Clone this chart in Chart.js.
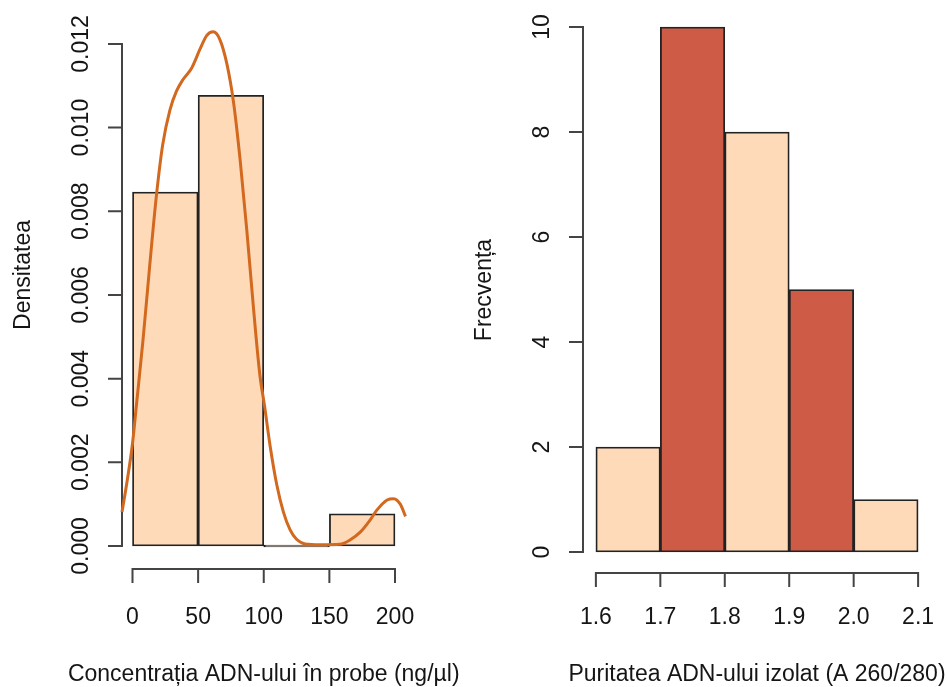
<!DOCTYPE html>
<html>
<head>
<meta charset="utf-8">
<script src="https://cdn.jsdelivr.net/npm/chart.js@4.4.1/dist/chart.umd.min.js"></script>
<style>
  html, body { margin: 0; padding: 0; background: #fff; }
  #wrap { position: relative; width: 947px; height: 687px; }
  .panel { position: absolute; top: 0; }
</style>
</head>
<body>
<div id="wrap">
  <canvas id="leftChart" class="panel" width="473" height="687" style="left:0"></canvas>
  <canvas id="rightChart" class="panel" width="474" height="687" style="left:473px"></canvas>
</div>
<script>
// left panel: concentration histogram (density) + density curve
const concBinCenters = [25, 75, 125, 175];
const concDensity = [0.00846, 0.01077, 0, 0.00077];
const curveX = [-8, -4.6, 0, 3, 8, 13, 18, 23, 28.5, 33.5, 38.5, 45, 51.5, 56.5, 61.5, 66.5, 72, 77, 82, 87,
                92, 97, 100.5, 105, 110, 115, 120, 125, 131.5, 143, 158, 166, 173.5, 181, 186, 194, 199, 204, 208];
const curveY = [0.00081, 0.00145, 0.00245, 0.00337, 0.00492, 0.00666, 0.00831, 0.00959, 0.01042, 0.01087,
                0.01115, 0.01142, 0.01188, 0.0122, 0.01229, 0.01211, 0.01151, 0.0106, 0.00923, 0.00758,
                0.00575, 0.0041, 0.00337, 0.00236, 0.00145, 0.00081, 0.00039, 0.00016, 0.00005, 0.00003,
                0.00004, 0.00015, 0.00033, 0.00062, 0.00085, 0.0011, 0.00113, 0.001, 0.00071];
const concTicks = [0, 50, 100, 150, 200];
const concTickLabels = ['0', '50', '100', '150', '200'];
const densTicks = [0, 0.002, 0.004, 0.006, 0.008, 0.010, 0.012];
const densTickLabels = ['0.000', '0.002', '0.004', '0.006', '0.008', '0.010', '0.012'];

// right panel: purity histogram (frequency)
const purBinCenters = [1.65, 1.75, 1.85, 1.95, 2.05];
const purCounts = [2, 10, 8, 5, 1];
const purTicks = [1.6, 1.7, 1.8, 1.9, 2.0, 2.1];
const purTickLabels = ['1.6', '1.7', '1.8', '1.9', '2.0', '2.1'];
const freqTicks = [0, 2, 4, 6, 8, 10];
const freqTickLabels = ['0', '2', '4', '6', '8', '10'];

const PEACH = '#FFDAB9', CORAL = '#CD5B45', CHOCO = '#D2691E';
const FONT = '23px "Liberation Sans", Arial, sans-serif';

// R-style detached axes, drawn from the chart's own scales
const rAxes = {
  id: 'rAxes',
  beforeDatasetsDraw(chart, args, opts) {
    const ctx = chart.ctx, area = chart.chartArea,
          xs = chart.scales.x, ys = chart.scales.y;
    ctx.save();
    ctx.strokeStyle = '#444';
    ctx.lineWidth = 2;
    ctx.fillStyle = '#151515';
    ctx.font = FONT;

    // x axis
    const xp = opts.xTicks.map(v => xs.getPixelForValue(v)), yb = area.bottom;
    ctx.beginPath();
    ctx.moveTo(xp[0] - 1, yb);
    ctx.lineTo(xp[xp.length - 1] + 1, yb);
    xp.forEach(px => { ctx.moveTo(px, yb); ctx.lineTo(px, yb + 14); });
    ctx.stroke();
    ctx.textAlign = 'center';
    ctx.textBaseline = 'alphabetic';
    xp.forEach((px, i) => ctx.fillText(opts.xLabels[i], px, 624));
    ctx.fillText(opts.xTitle, (area.left + area.right) / 2, 681);

    // y axis
    const yp = opts.yTicks.map(v => ys.getPixelForValue(v)), xl = area.left;
    ctx.beginPath();
    ctx.moveTo(xl, yp[0] + 1);
    ctx.lineTo(xl, yp[yp.length - 1] - 1);
    yp.forEach(py => { ctx.moveTo(xl, py); ctx.lineTo(xl - 14, py); });
    ctx.stroke();
    yp.forEach((py, i) => {
      ctx.save();
      ctx.translate(xl - 34, py);
      ctx.rotate(-Math.PI / 2);
      ctx.fillText(opts.yLabels[i], 0, 0);
      ctx.restore();
    });
    ctx.save();
    ctx.translate(xl - 92, opts.yTitleY);
    ctx.rotate(-Math.PI / 2);
    ctx.fillText(opts.yTitle, 0, 0);
    ctx.restore();
    ctx.restore();
  }
};

function makeScales(xmin, xmax, ymin, ymax) {
  return {
    x: { type: 'linear', min: xmin, max: xmax, offset: false, display: false },
    y: { type: 'linear', min: ymin, max: ymax, display: false }
  };
}

const leftChart = new Chart(document.getElementById('leftChart').getContext('2d'), {
  type: 'bar',
  data: {
    datasets: [{
      type: 'line',
      order: 0,
      data: curveX.map((x, i) => ({ x: x, y: curveY[i] })),
      borderColor: CHOCO,
      borderWidth: 3,
      pointRadius: 0,
      cubicInterpolationMode: 'monotone',
      clip: false
    }, {
      type: 'bar',
      order: 1,
      data: concBinCenters.map((x, i) => ({ x: x, y: concDensity[i] })),
      backgroundColor: PEACH,
      borderColor: '#222',
      borderWidth: 1.8,
      borderSkipped: false,
      minBarLength: 2,
      barPercentage: 1,
      categoryPercentage: 1
    }]
  },
  options: {
    responsive: false,
    animation: false,
    layout: { padding: { left: 122, right: 67.5, top: 0, bottom: 118 } },
    scales: makeScales(-8, 208, -0.00055, 0.01305),
    plugins: {
      legend: { display: false },
      tooltip: { enabled: false },
      rAxes: {
        xTicks: concTicks, xLabels: concTickLabels,
        yTicks: densTicks, yLabels: densTickLabels,
        xTitle: 'Concentrația ADN-ului în probe (ng/µl)',
        yTitle: 'Densitatea', yTitleY: 275
      }
    }
  },
  plugins: [rAxes]
});

const rightChart = new Chart(document.getElementById('rightChart').getContext('2d'), {
  type: 'bar',
  data: {
    datasets: [{
      data: purBinCenters.map((x, i) => ({ x: x, y: purCounts[i] })),
      backgroundColor: [PEACH, CORAL, PEACH, CORAL, PEACH],
      borderColor: '#222',
      borderWidth: 1.8,
      borderSkipped: false,
      barPercentage: 1,
      categoryPercentage: 1
    }]
  },
  options: {
    responsive: false,
    animation: false,
    layout: { padding: { left: 110, right: 16, top: 6, bottom: 114 } },
    scales: makeScales(1.58, 2.12, -0.4, 10.4),
    plugins: {
      legend: { display: false },
      tooltip: { enabled: false },
      rAxes: {
        xTicks: purTicks, xLabels: purTickLabels,
        yTicks: freqTicks, yLabels: freqTickLabels,
        xTitle: 'Puritatea ADN-ului izolat (A 260/280)',
        yTitle: 'Frecvența', yTitleY: 290
      }
    }
  },
  plugins: [rAxes]
});
</script>
</body>
</html>
